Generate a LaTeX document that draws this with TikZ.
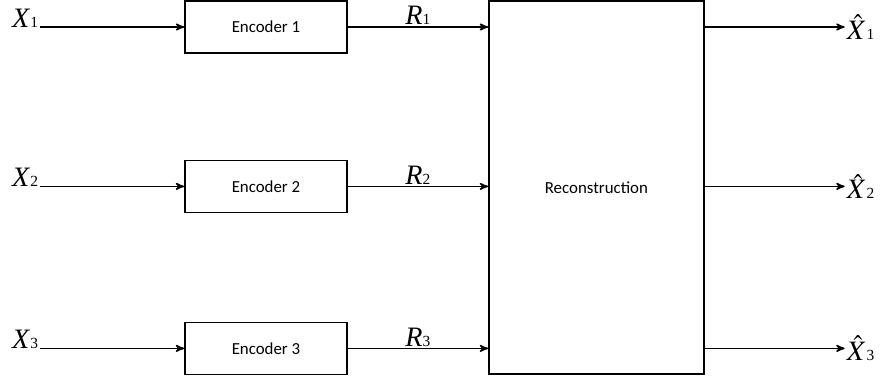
\documentclass[tikz,border=0pt]{standalone}
\usepackage{mathptmx}
\usepackage{fontspec}
\setmainfont{Liberation Serif}
\newfontfamily\boxfont{Carlito}
\usetikzlibrary{arrows,positioning}

\newcommand{\sigl}[2]{\textit{#1}{\fontsize{11}{12}\selectfont #2}}

\begin{document}
\begin{tikzpicture}[->,>=stealth',line width=1.1pt,
  block/.style={draw,minimum width=4.05cm,minimum height=1.3cm,font=\boxfont\fontsize{12}{14}\selectfont},
  lbl/.style={inner sep=1pt,font=\fontsize{20}{22}\selectfont}]
  \useasboundingbox (0,0) rectangle (22.1,-9.525);
  % encoders and decoder
  \node[block] (enc1) at (6.65,-0.675) {Encoder 1};
  \node[block] (enc2) at (6.65,-4.66) {Encoder 2};
  \node[block] (enc3) at (6.65,-8.71) {Encoder 3};
  \node[block,minimum width=5.375cm,minimum height=9.325cm] (rec) at (14.91,-4.69) {Reconstruction};
  % sources
  \node[lbl,anchor=base east] (x1) at ([xshift=-3.6cm]enc1.west) {\sigl{X}{1}};
  \node[lbl,anchor=base east] (x2) at ([xshift=-3.6cm]enc2.west) {\sigl{X}{2}};
  \node[lbl,anchor=base east] (x3) at ([xshift=-3.6cm]enc3.west) {\sigl{X}{3}};
  % estimates
  \node[lbl,anchor=west] (xh1) at ([xshift=3.5cm]rec.east |- enc1) {\sigl{$\hat{X}$}{1}};
  \node[lbl,anchor=west] (xh2) at ([xshift=3.5cm]rec.east |- enc2) {\sigl{$\hat{X}$}{2}};
  \node[lbl,anchor=west] (xh3) at ([xshift=3.5cm]rec.east |- enc3) {\sigl{$\hat{X}$}{3}};
  \path
  (x1.base east) edge (enc1.west)
  (x2.base east) edge (enc2.west)
  (x3.base east) edge (enc3.west)
  (enc1.east) edge node[lbl,above] {\sigl{R}{1}} (rec.west |- enc1)
  (enc2.east) edge node[lbl,above] {\sigl{R}{2}} (rec.west |- enc2)
  (enc3.east) edge node[lbl,above] {\sigl{R}{3}} (rec.west |- enc3)
  (rec.east |- xh1) edge (xh1)
  (rec.east |- xh2) edge (xh2)
  (rec.east |- xh3) edge (xh3);
\end{tikzpicture}
\end{document}
